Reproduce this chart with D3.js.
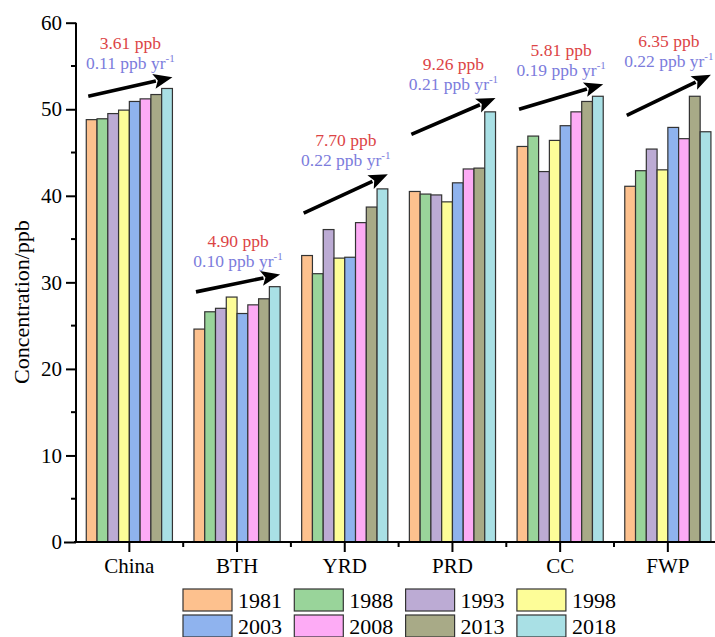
<!DOCTYPE html>
<html>
<head>
<meta charset="utf-8">
<script src="https://cdn.jsdelivr.net/npm/d3@7"></script>
<style>
  body { margin: 0; background: #fff; }
  svg { display: block; font-family: "Liberation Serif", "Times New Roman", serif; }
</style>
</head>
<body>
<svg id="chart" width="715" height="637"></svg>
<script>
// regions and years
var regions = ["China", "BTH", "YRD", "PRD", "CC", "FWP"];
var years = ["1981", "1988", "1993", "1998", "2003", "2008", "2013", "2018"];

// concentration (ppb), one row per region, one value per year
var conc = [
  [48.8, 48.9, 49.5, 49.9, 50.9, 51.2, 51.7, 52.4],
  [24.6, 26.6, 27.0, 28.3, 26.4, 27.4, 28.1, 29.5],
  [33.1, 31.0, 36.1, 32.8, 32.9, 36.9, 38.7, 40.8],
  [40.5, 40.2, 40.1, 39.3, 41.5, 43.1, 43.2, 49.7],
  [45.7, 46.9, 42.8, 46.4, 48.1, 49.7, 50.9, 51.5],
  [41.1, 42.9, 45.4, 43.0, 47.9, 46.6, 51.5, 47.4]
];

// trend annotations
var changeText = ["3.61 ppb", "4.90 ppb", "7.70 ppb", "9.26 ppb", "5.81 ppb", "6.35 ppb"];
var rateText = ["0.11", "0.10", "0.22", "0.21", "0.19", "0.22"];
var arrowFrom = [51.5, 28.9, 38.0, 47.1, 50.0, 49.3];
var arrowTo = [53.7, 30.9, 42.5, 51.3, 52.9, 54.0];

var colors = ["#fdc18e", "#99d49a", "#bcabd4", "#fdfd98", "#8fb3ee", "#fdabf5", "#a8aa87", "#a9e0e5"];

var svg = d3.select("#chart");

var x = d3.scaleBand().domain(regions).range([75.5, 721.7]).paddingInner(0.2).paddingOuter(0.1);
var xi = d3.scaleBand().domain(years).range([0, x.bandwidth()]);
var y = d3.scaleLinear().domain([0, 60]).range([542, 22.7]);
var color = d3.scaleOrdinal().domain(years).range(colors);

// bars
var groups = svg.selectAll("g.region")
  .data(regions)
  .enter().append("g")
  .attr("class", "region")
  .attr("transform", function(d) { return "translate(" + x(d) + ",0)"; });

groups.selectAll("rect")
  .data(function(d, i) { return conc[i].map(function(v, j) { return {year: years[j], v: v}; }); })
  .enter().append("rect")
  .attr("x", function(d) { return xi(d.year); })
  .attr("y", function(d) { return y(d.v); })
  .attr("width", xi.bandwidth())
  .attr("height", function(d) { return y(0) - y(d.v); })
  .attr("fill", function(d) { return color(d.year); })
  .attr("stroke", "#333")
  .attr("stroke-width", 1.2);

// arrows + labels
regions.forEach(function(r, i) {
  var x0 = x(r) + 2, x1 = x(r) + x.bandwidth();
  var y0 = y(arrowFrom[i]), y1 = y(arrowTo[i]);
  var ang = Math.atan2(y1 - y0, x1 - x0);
  var L = 19, W = 7.5;
  var bx = x1 - L * Math.cos(ang), by = y1 - L * Math.sin(ang);
  svg.append("line")
    .attr("x1", x0).attr("y1", y0).attr("x2", bx + 2 * Math.cos(ang)).attr("y2", by + 2 * Math.sin(ang))
    .attr("stroke", "#000").attr("stroke-width", 3.6);
  svg.append("path")
    .attr("d", "M" + x1 + "," + y1 +
      "L" + (bx + W * Math.sin(ang)) + "," + (by - W * Math.cos(ang)) +
      "L" + (bx + 4 * Math.cos(ang)) + "," + (by + 4 * Math.sin(ang)) +
      "L" + (bx - W * Math.sin(ang)) + "," + (by + W * Math.cos(ang)) + "Z")
    .attr("fill", "#000");

  var cx = x(r) + x.bandwidth() / 2 + 1;
  svg.append("text")
    .attr("x", cx).attr("y", y1 - 28)
    .attr("text-anchor", "middle")
    .attr("font-size", 17.5)
    .attr("fill", "#dc4446")
    .text(changeText[i]);
  var t = svg.append("text")
    .attr("x", cx).attr("y", y1 - 8)
    .attr("text-anchor", "middle")
    .attr("font-size", 17.5)
    .attr("fill", "#7c7cdc");
  t.append("tspan").text(rateText[i] + " ppb yr");
  t.append("tspan").attr("font-size", 11).attr("dy", -7).text("-1");
});

// y axis
var yAxis = d3.axisLeft(y).tickValues([0, 10, 20, 30, 40, 50, 60]).tickSize(10).tickPadding(4);
var gy = svg.append("g").attr("transform", "translate(76,0)").call(yAxis);
gy.selectAll(".tick line").attr("stroke-width", 2);
gy.selectAll(".tick").filter(function(d) { return d === 0; }).select("line").attr("x2", -12);
gy.select(".domain").attr("stroke-width", 2).attr("d", "M0," + y(60) + "V" + y(0));
gy.selectAll("text").attr("font-size", 21).attr("font-family", "Liberation Serif").attr("fill", "#000");
gy.selectAll(".minor")
  .data([5, 15, 25, 35, 45, 55])
  .enter().append("line")
  .attr("class", "minor")
  .attr("x1", -5).attr("x2", 0)
  .attr("y1", function(d) { return y(d); }).attr("y2", function(d) { return y(d); })
  .attr("stroke", "#000").attr("stroke-width", 2);

// x axis
var xAxis = d3.axisBottom(x).tickSize(10).tickPadding(6);
var gx = svg.append("g").attr("transform", "translate(0," + y(0) + ")").call(xAxis);
gx.select(".domain").attr("stroke-width", 2).attr("d", "M" + 74 + ",0H721");
gx.selectAll(".tick line").attr("stroke-width", 2);
gx.selectAll("text").attr("font-size", 21).attr("font-family", "Liberation Serif").attr("fill", "#000");
gx.selectAll(".minor")
  .data(regions.slice(1).concat(["end"]))
  .enter().append("line")
  .attr("class", "minor")
  .attr("x1", function(d, i) { return x.range()[0] + x.step() * (i + 1); })
  .attr("x2", function(d, i) { return x.range()[0] + x.step() * (i + 1); })
  .attr("y1", 0).attr("y2", 5)
  .attr("stroke", "#000").attr("stroke-width", 2);

// y title
svg.append("text")
  .attr("transform", "translate(29,302) rotate(-90)")
  .attr("text-anchor", "middle")
  .attr("font-size", 22)
  .text("Concentration/ppb");

// legend
var leg = svg.append("g").selectAll("g")
  .data(years)
  .enter().append("g")
  .attr("transform", function(d, i) { return "translate(" + (183 + (i % 4) * 111.3) + "," + (589 + Math.floor(i / 4) * 26) + ")"; });
leg.append("rect")
  .attr("width", 49).attr("height", 22)
  .attr("fill", function(d) { return color(d); })
  .attr("stroke", "#333").attr("stroke-width", 1.2);
leg.append("text")
  .attr("x", 55).attr("y", 18.5)
  .attr("font-size", 22)
  .text(function(d) { return d; });
</script>
</body>
</html>
